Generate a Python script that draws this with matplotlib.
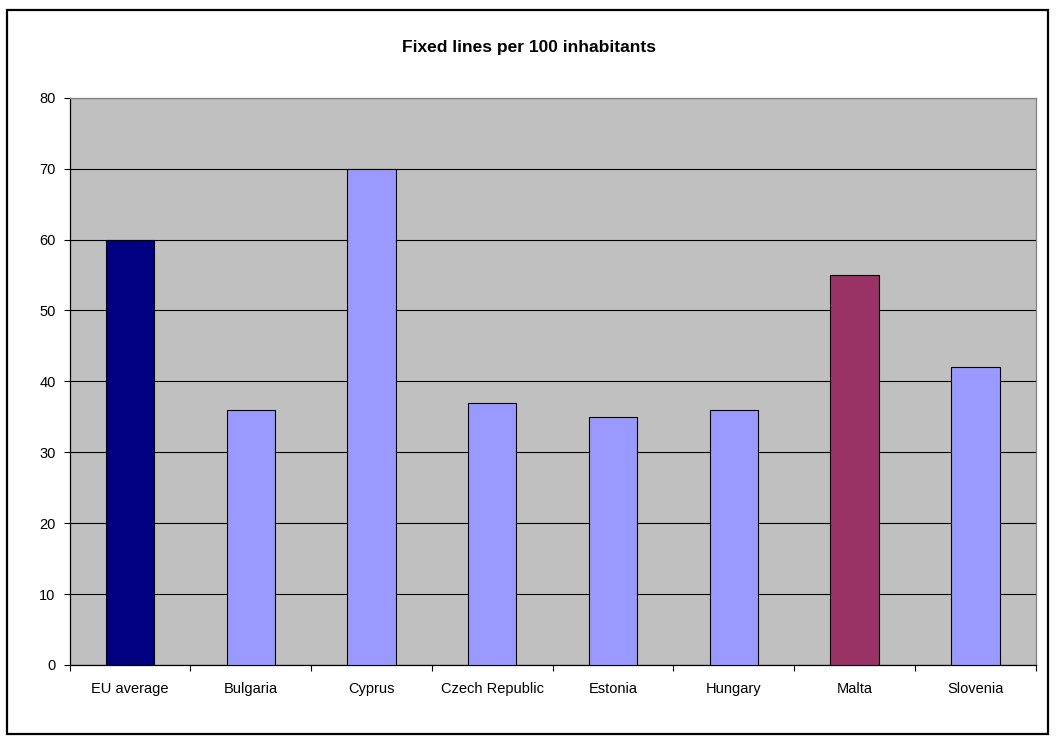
#!/usr/bin/env python3
import matplotlib
matplotlib.use('Agg')
import matplotlib.pyplot as plt
from matplotlib.patches import Rectangle

plt.rcParams['font.family'] = ['Liberation Sans', 'DejaVu Sans']

countries = ['EU average', 'Bulgaria', 'Cyprus', 'Czech Republic',
             'Estonia', 'Hungary', 'Malta', 'Slovenia']
lines_per_100 = [60, 36, 70, 37, 35, 36, 55, 42]
bar_colors = ['#000080', '#9999FF', '#9999FF', '#9999FF',
              '#9999FF', '#9999FF', '#993366', '#9999FF']
y_ticks = [0, 10, 20, 30, 40, 50, 60, 70, 80]

fig = plt.figure(figsize=(10.58, 7.43), dpi=100)
ax = fig.add_axes([0.0657, 0.105, 0.9133, 0.7635])

# excel-style gray plot area
ax.set_facecolor('#C0C0C0')
ax.set_axisbelow(True)
ax.yaxis.grid(True, color='black', linewidth=0.8)

x = range(len(countries))
ax.bar(x, lines_per_100, width=0.4, color=bar_colors,
       edgecolor='black', linewidth=0.8, zorder=3)

ax.set_xlim(-0.5, len(countries) - 0.5)
ax.set_ylim(0, 80)
ax.set_yticks(y_ticks)
ax.set_xticks(list(x))
ax.set_xticklabels(countries)
ax.set_xticks([i - 0.5 for i in range(len(countries) + 1)], minor=True)

ax.tick_params(axis='x', which='major', length=0, pad=12, labelsize=10.5)
ax.tick_params(axis='x', which='minor', length=4, width=0.8, direction='out')
ax.tick_params(axis='y', length=4, width=0.8, direction='out', pad=6, labelsize=10.5)

ax.spines['left'].set_color('black')
ax.spines['bottom'].set_color('black')
ax.spines['top'].set_color('#808080')
ax.spines['right'].set_color('#808080')
for s in ax.spines.values():
    s.set_linewidth(0.9)

fig.text(0.5, 0.936, 'Fixed lines per 100 inhabitants',
         ha='center', va='center', fontsize=12.5, fontweight='bold')

# chart border
fig.patches.append(Rectangle((7 / 1058, 1 - 734 / 743), 1041 / 1058, 724 / 743,
                             transform=fig.transFigure, fill=False,
                             edgecolor='black', linewidth=1.6))

fig.savefig('out.png', dpi=100)
